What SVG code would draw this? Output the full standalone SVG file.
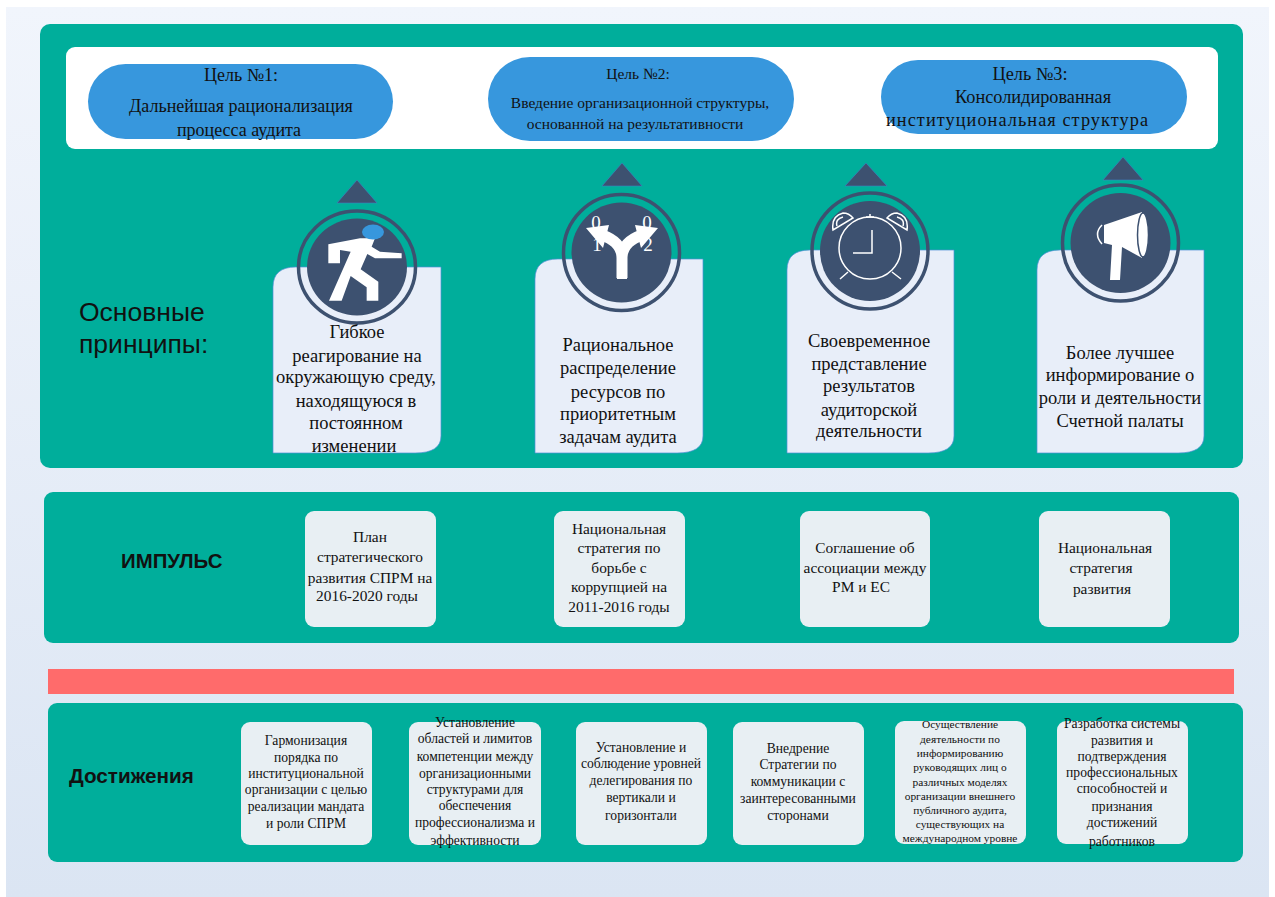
<svg xmlns="http://www.w3.org/2000/svg" width="1275" height="897" viewBox="0 0 1275 897">
<style>
text{font-family:"Liberation Serif","Times New Roman",serif;fill:#111;text-anchor:middle}
.panel{fill:#00ae9b}
.card{fill:#e8eef9;stroke:#4f8fd6;stroke-width:.7}
.box{fill:#e8eff3}
.pill{fill:#3797dd}
.ring{fill:none;stroke:#3d5170;stroke-width:3.5}
.disc,.tri{fill:#3d5170}
.tri{stroke:#3f7fc4;stroke-width:.6}
.ico{fill:#fff}
.line{fill:none;stroke:#fff;stroke-width:1.5}
.g1{font-size:18px}.g2{font-size:15.5px}.g3{font-size:18.3px}
.c{font-size:18.5px}
.i{font-size:15.4px}
.a{font-size:13.6px}
.a5{font-size:11.4px}
.h{font-family:"Liberation Sans",Arial,sans-serif;text-anchor:start}
.n{font-size:19px;fill:#fff;font-family:"Liberation Serif",serif}
</style>
<defs>
<linearGradient id="bg" x1="0" y1="0" x2="0" y2="1"><stop offset="0" stop-color="#f1f5fc"/><stop offset="1" stop-color="#dbe5f3"/></linearGradient>
</defs>
<rect width="1275" height="897" fill="#fff"/>
<rect x="6" y="7" width="1263" height="890" fill="url(#bg)"/>

<g id="panel-main">
<rect class="panel" x="40" y="24" width="1203" height="444" rx="10"/>
<rect x="66" y="47" width="1152" height="102" rx="9" fill="#fff"/>
<text class="h" x="79" y="321" font-size="26.5">Основные</text>
<text class="h" x="79" y="353" font-size="26.5">принципы:</text>
</g>

<g id="goal-1">
<rect class="pill" x="88" y="64" width="305" height="75" rx="37.5"/>
<text class="g1" x="241" y="81">Цель №1:</text>
<text class="g1" x="241" y="112">Дальнейшая рационализация</text>
<text class="g1" x="239" y="136">процесса аудита</text>
</g>
<g id="goal-2">
<rect class="pill" x="488" y="57" width="306" height="84" rx="42"/>
<text class="g2" x="638" y="79">Цель №2:</text>
<text class="g2" x="640" y="108">Введение организационной структуры,</text>
<text class="g2" x="635" y="129">основанной на результативности</text>
</g>
<g id="goal-3">
<rect class="pill" x="881" y="60" width="306" height="74" rx="37"/>
<text class="g3" x="1030" y="80">Цель №3:</text>
<text class="g3" x="1033" y="103">Консолидированная</text>
<text class="g3" x="1017" y="126" textLength="262">институциональная структура</text>
</g>

<g id="principle-1">
<path class="card" d="M273 453V287Q273 267 296 267H441V436Q441 453 415 453Z"/>
<path class="tri" d="M357 180L377 203H337Z"/>
<ellipse class="ring" cx="357" cy="267" rx="58.5" ry="56"/>
<ellipse class="disc" cx="357" cy="267" rx="50" ry="48.5"/>
<path class="ico" transform="translate(260 150) scale(.3333)" d="M205 283L300 265H345L335 290L360 305L425 310V325L345 325L322 312L302 358L355 395V452H320V412L272 378L245 452H207L272 305L240 300V340H205Z"/>
<ellipse cx="373" cy="232" rx="11" ry="7.5" fill="#3797dd"/>
<text class="c" x="357" y="338">Гибкое</text>
<text class="c" x="357" y="362">реагирование на</text>
<text class="c" x="356" y="383">окружающую среду,</text>
<text class="c" x="356" y="407">находящуюся в</text>
<text class="c" x="356" y="429">постоянном</text>
<text class="c" x="354" y="452">изменении</text>
</g>

<g id="principle-2">
<path class="card" d="M535 453V279Q535 259 558 259H703V436Q703 453 677 453Z"/>
<path class="tri" d="M622 163L642 186H602Z"/>
<circle class="ring" cx="621.5" cy="252.5" r="58"/>
<circle class="disc" cx="621.5" cy="252.5" r="50"/>
<path d="M622 278V258Q622 242 602 235M622 258Q622 242 642 235" fill="none" stroke="#fff" stroke-width="11"/>
<rect class="ico" x="617" y="255" width="10" height="24"/>
<path class="ico" d="M586 228L609 225L603 248ZM658 228L635 225L641 248Z"/>
<text class="n" x="596" y="229">0</text>
<text class="n" x="597" y="251">1</text>
<text class="n" x="647" y="229">0</text>
<text class="n" x="648" y="251">2</text>
<text class="c" x="618" y="351">Рациональное</text>
<text class="c" x="618" y="374">распределение</text>
<text class="c" x="618" y="398">ресурсов по</text>
<text class="c" x="618" y="420">приоритетным</text>
<text class="c" x="618" y="443">задачам аудита</text>
</g>

<g id="principle-3">
<path class="card" d="M787 453V270Q787 250 810 250H954V436Q954 453 928 453Z"/>
<path class="tri" d="M866 163L887 186H845Z"/>
<circle class="ring" cx="870" cy="251" r="58"/>
<circle class="disc" cx="870" cy="251" r="50"/>
<circle class="line" cx="870" cy="248" r="31"/>
<path class="line" d="M872 230V253H853M848 272L840 279M892 272L901 279M833 230Q831 216 843 213Q849 213 853 218ZM837 226Q835 219 843 217M907 230Q909 216 897 213Q891 213 887 218ZM903 226Q905 219 897 217M866 217H874M870 214V217"/>
<text class="c" x="869" y="347">Своевременное</text>
<text class="c" x="869" y="370">представление</text>
<text class="c" x="869" y="392">результатов</text>
<text class="c" x="869" y="416">аудиторской</text>
<text class="c" x="869" y="437">деятельности</text>
</g>

<g id="principle-4">
<path class="card" d="M1037 453V270Q1037 250 1060 250H1204V436Q1204 453 1178 453Z"/>
<path class="tri" d="M1123 157L1143 180H1103Z"/>
<circle class="ring" cx="1120.5" cy="243" r="58"/>
<circle class="disc" cx="1120.5" cy="243" r="50"/>
<path class="ico" d="M1104 225L1142 212L1142 258L1122 247L1120 280H1110L1112 245L1104 243Z"/>
<path class="line" d="M1102 225Q1093 234 1102 244" stroke-width="2"/>
<ellipse cx="1143" cy="235" rx="5.5" ry="22" fill="#fff" stroke="#3d5170" stroke-width="1.5"/>
<text class="c" x="1120" y="359">Более лучшее</text>
<text class="c" x="1120" y="381">информирование о</text>
<text class="c" x="1120" y="404">роли и деятельности</text>
<text class="c" x="1120" y="427">Счетной палаты</text>
</g>

<g id="panel-impulse">
<rect class="panel" x="44" y="492" width="1195" height="151" rx="9"/>
<text class="h" x="121" y="568" font-size="20.4" font-weight="700">ИМПУЛЬС</text>
</g>
<g id="impulse-1">
<rect class="box" x="305" y="511" width="131" height="116" rx="9"/>
<text class="i" x="370" y="542">План</text>
<text class="i" x="370" y="562">стратегического</text>
<text class="i" x="370" y="583">развития СПРМ на</text>
<text class="i" x="367" y="601">2016-2020 годы</text>
</g>
<g id="impulse-2">
<rect class="box" x="554" y="511" width="131" height="116" rx="9"/>
<text class="i" x="619" y="534">Национальная</text>
<text class="i" x="619" y="553">стратегия по</text>
<text class="i" x="619" y="573">борьбе с</text>
<text class="i" x="619" y="592">коррупцией на</text>
<text class="i" x="619" y="612">2011-2016 годы</text>
</g>
<g id="impulse-3">
<rect class="box" x="800" y="511" width="130" height="116" rx="9"/>
<text class="i" x="865" y="553">Соглашение об</text>
<text class="i" x="865" y="573">ассоциации между</text>
<text class="i" x="861" y="592">РМ и ЕС</text>
</g>
<g id="impulse-4">
<rect class="box" x="1039" y="511" width="131" height="116" rx="9"/>
<text class="i" x="1105" y="553">Национальная</text>
<text class="i" x="1101" y="573">стратегия</text>
<text class="i" x="1102" y="594">развития</text>
</g>

<rect id="red-bar" x="48" y="669" width="1186" height="25" fill="#ff6b6b"/>

<g id="panel-achievements">
<rect class="panel" x="48" y="703" width="1195" height="159" rx="9"/>
<text class="h" x="69" y="783" font-size="20.7" font-weight="700">Достижения</text>
</g>
<g id="achievement-1">
<rect class="box" x="241" y="722" width="131" height="123" rx="9"/>
<text class="a" x="306" y="745">Гармонизация</text>
<text class="a" x="306" y="762">порядка по</text>
<text class="a" x="306" y="778">институциональной</text>
<text class="a" x="306" y="794">организации с целью</text>
<text class="a" x="306" y="811">реализации мандата</text>
<text class="a" x="306" y="828">и роли СПРМ</text>
</g>
<g id="achievement-2">
<rect class="box" x="409" y="722" width="132" height="123" rx="9"/>
<text class="a" x="475" y="727">Установление</text>
<text class="a" x="475" y="743">областей и лимитов</text>
<text class="a" x="475" y="761">компетенции между</text>
<text class="a" x="475" y="778">организационными</text>
<text class="a" x="475" y="794">структурами для</text>
<text class="a" x="475" y="810">обеспечения</text>
<text class="a" x="475" y="827">профессионализма и</text>
<text class="a" x="475" y="845">эффективности</text>
</g>
<g id="achievement-3">
<rect class="box" x="576" y="722" width="131" height="123" rx="9"/>
<text class="a" x="641" y="752">Установление и</text>
<text class="a" x="641" y="768">соблюдение уровней</text>
<text class="a" x="641" y="785">делегирования по</text>
<text class="a" x="641" y="802">вертикали и</text>
<text class="a" x="641" y="820">горизонтали</text>
</g>
<g id="achievement-4">
<rect class="box" x="733" y="722" width="131" height="123" rx="9"/>
<text class="a" x="798" y="753">Внедрение</text>
<text class="a" x="798" y="769">Стратегии по</text>
<text class="a" x="798" y="786">коммуникации с</text>
<text class="a" x="798" y="803">заинтересованными</text>
<text class="a" x="798" y="820">сторонами</text>
</g>
<g id="achievement-5">
<rect class="box" x="895" y="721" width="131" height="123" rx="9"/>
<text class="a5" x="960" y="728">Осуществление</text>
<text class="a5" x="960" y="743">деятельности по</text>
<text class="a5" x="960" y="757">информированию</text>
<text class="a5" x="960" y="771">руководящих лиц о</text>
<text class="a5" x="960" y="786">различных моделях</text>
<text class="a5" x="960" y="800">организации внешнего</text>
<text class="a5" x="960" y="814">публичного аудита,</text>
<text class="a5" x="960" y="828">существующих на</text>
<text class="a5" x="960" y="842">международном уровне</text>
</g>
<g id="achievement-6">
<rect class="box" x="1057" y="721" width="131" height="123" rx="9"/>
<text class="a" x="1122" y="728">Разработка системы</text>
<text class="a" x="1122" y="745">развития и</text>
<text class="a" x="1122" y="761">подтверждения</text>
<text class="a" x="1122" y="777">профессиональных</text>
<text class="a" x="1122" y="793">способностей и</text>
<text class="a" x="1122" y="811">признания</text>
<text class="a" x="1122" y="827">достижений</text>
<text class="a" x="1122" y="846">работников</text>
</g>
<g id="connectors"/>
</svg>
